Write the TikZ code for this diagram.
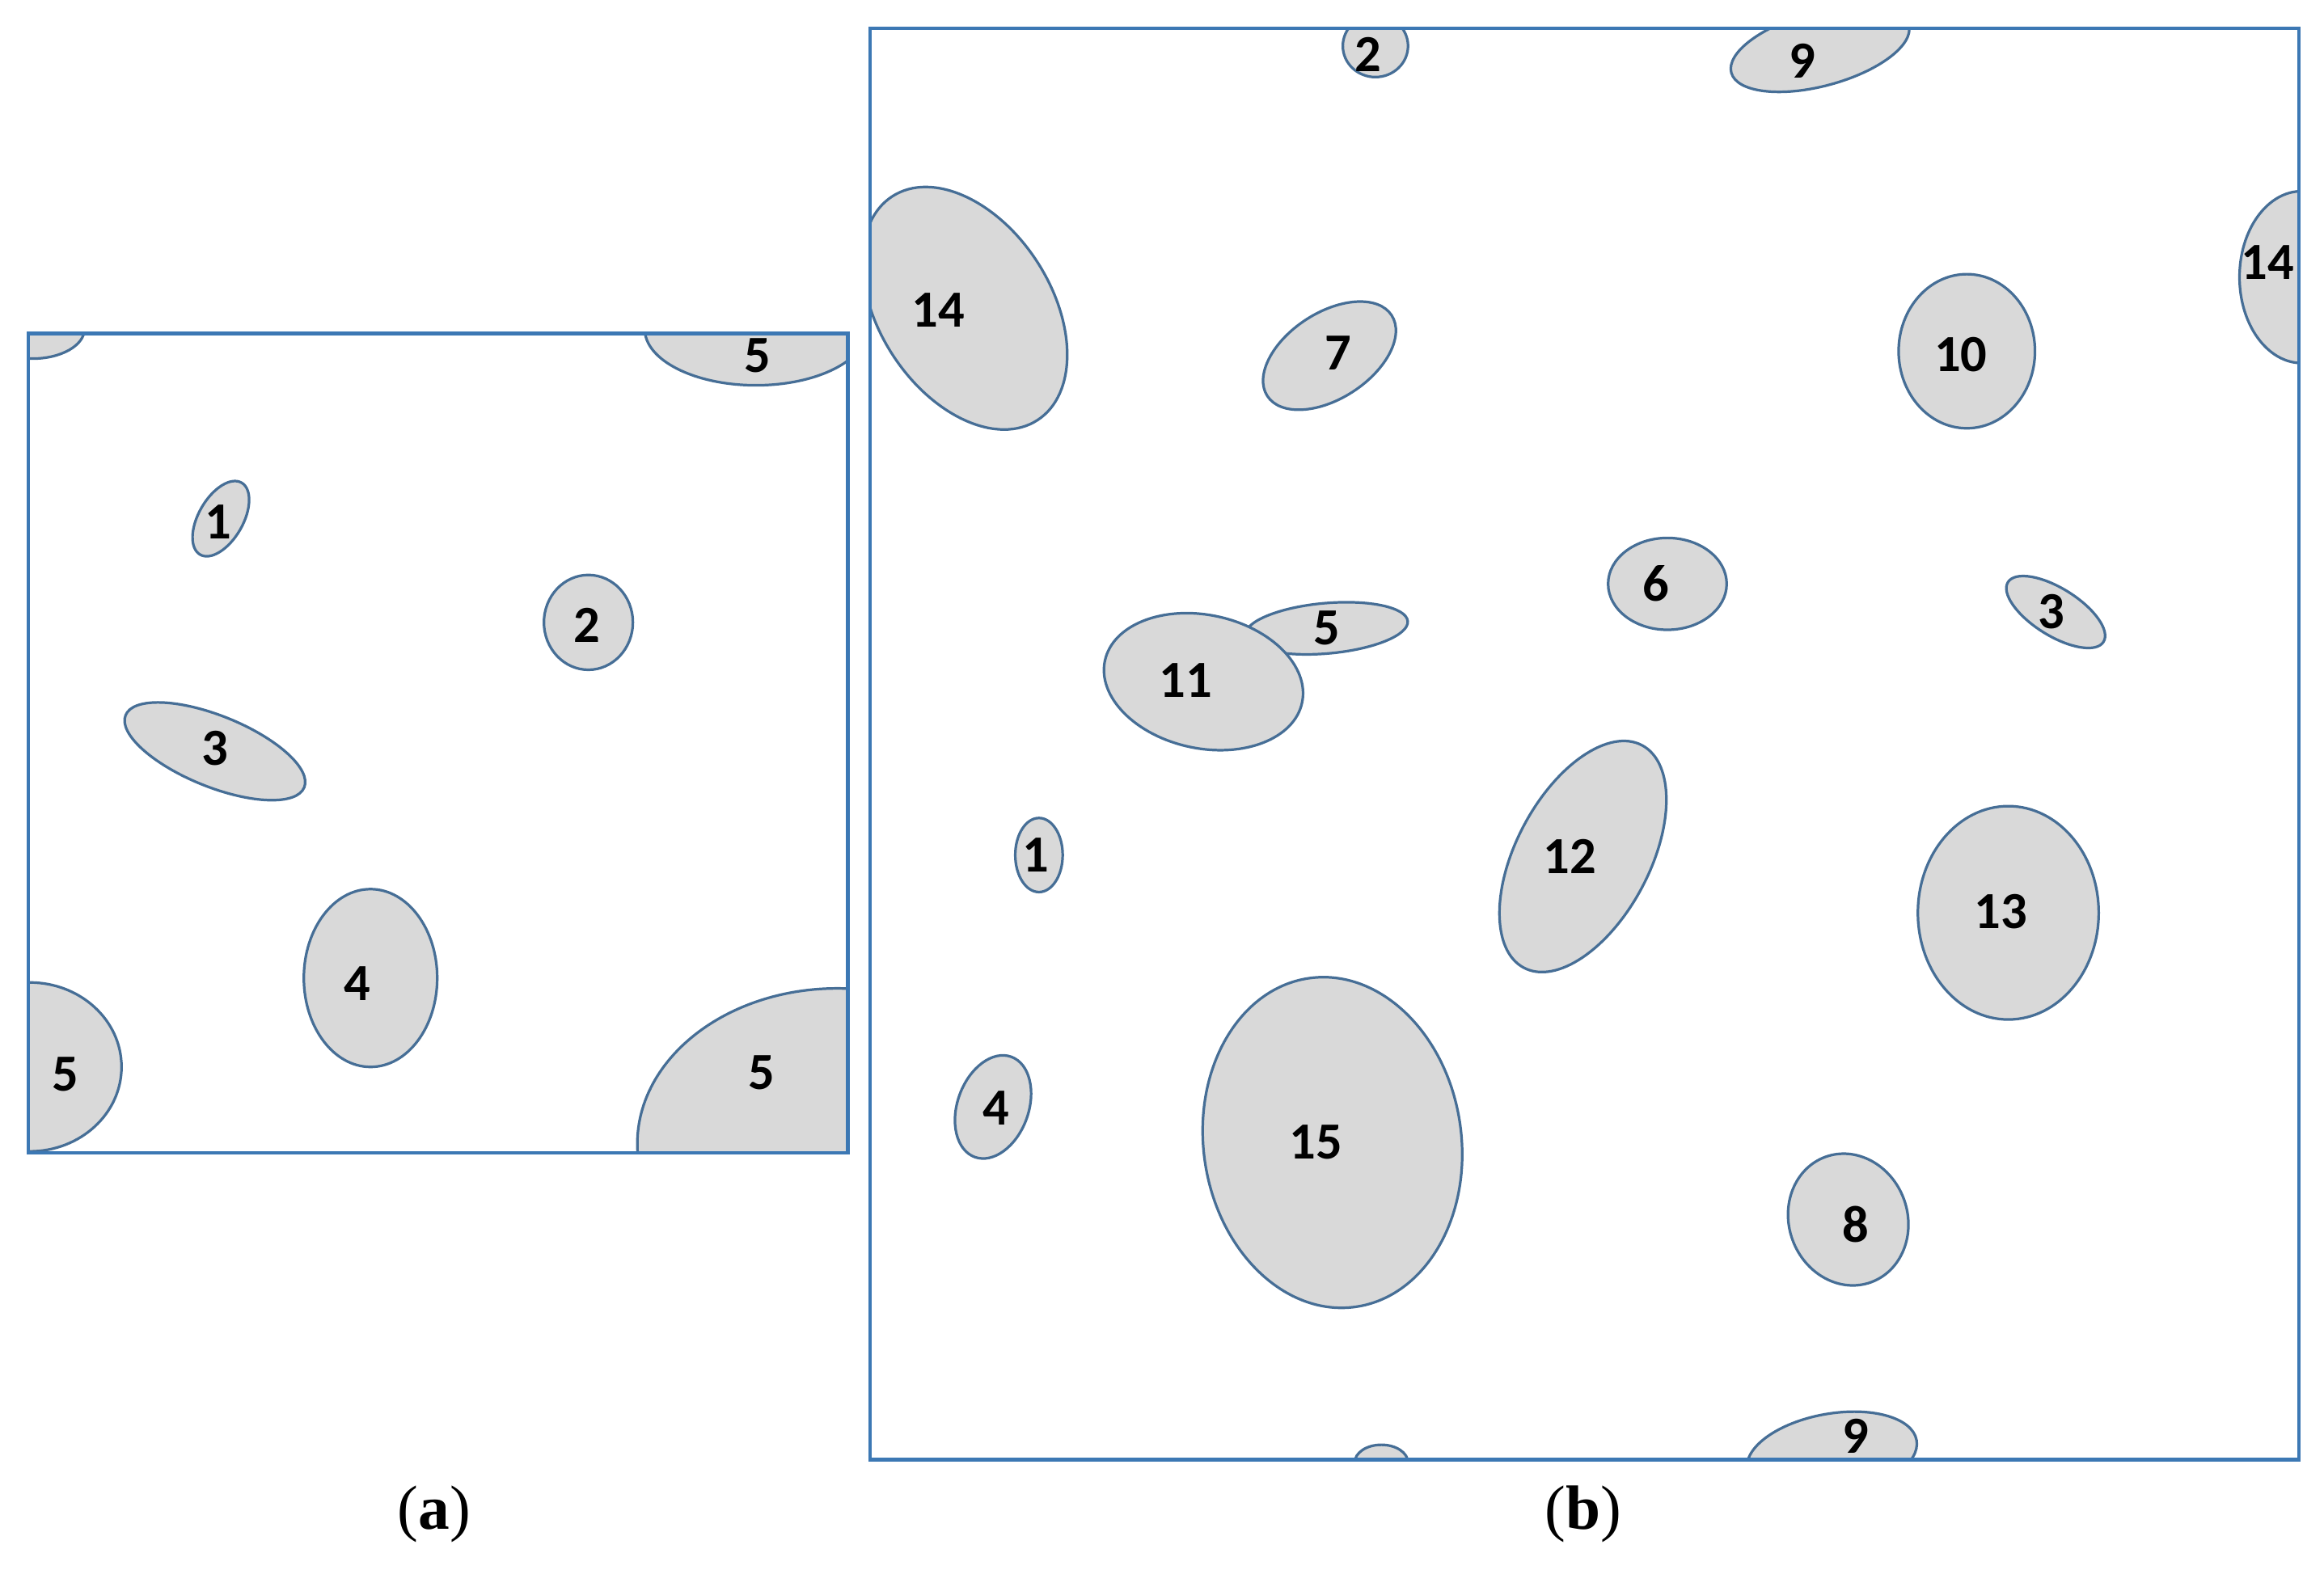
\documentclass[tikz,border=0pt]{standalone}
\usepackage{fontspec}
\setmainfont{Liberation Serif}
\newfontfamily\lblfont{Carlito}
\begin{document}
\begin{tikzpicture}[x=0.01cm,y=-0.01cm,
  blob/.style={draw=blobline,fill=blobfill,line width=0.5pt},
  frame/.style={draw=frameline,line width=0.7pt},
  lbl/.style={font=\lblfont\bfseries\fontsize{10}{12}\selectfont,inner sep=0pt}]
\definecolor{blobline}{RGB}{70,110,150}
\definecolor{blobfill}{RGB}{217,217,217}
\definecolor{frameline}{RGB}{60,120,180}
\useasboundingbox (0,0) rectangle (1568,1059);
\newcommand{\blob}[6]{\draw[blob,rotate around={#5:(#1,#2)}] (#1,#2) ellipse [x radius=#3*0.01cm, y radius=#4*0.01cm];}
% panel a
\begin{scope}
\clip (19,225) rectangle (572,778);
\blob{22}{222}{35}{20}{0}{}
\blob{510}{222}{75}{38}{0}{}
\blob{149}{350}{28}{15}{60}{}
\blob{397}{420}{30}{32}{0}{}
\blob{145}{507}{65}{24}{-22}{}
\blob{250}{660}{45}{60}{0}{}
\blob{20}{720}{62}{57}{0}{}
\blob{565}{772}{135}{105}{0}{}
\end{scope}
\draw[frame] (19,225) rectangle (572,778);
\node[lbl] (a5t) at (511,240) {5};
\node[lbl] (a1) at (147,352) {1};
\node[lbl] (a2) at (396,422) {2};
\node[lbl] (a3) at (145,505) {3};
\node[lbl] (a4) at (241,664) {4};
\node[lbl] (a5l) at (44,725) {5};
\node[lbl] (a5r) at (514,724) {5};
% panel b
\begin{scope}
\clip (587,19) rectangle (1551,985);
\blob{928}{31}{22}{21}{0}{}
\blob{1228}{33}{62}{25}{15}{}
\blob{1236}{982}{58}{28}{10}{}
\blob{932}{987}{18}{12}{0}{}
\blob{651}{208}{90}{58}{-57}{}
\blob{1553}{187}{42}{58}{0}{}
\blob{897}{240}{50}{29}{33}{}
\blob{1327}{237}{46}{52}{0}{}
\blob{1125}{394}{40}{31}{0}{}
\blob{1387}{413}{38}{16}{-32}{}
\blob{895}{424}{55}{17}{5}{}
\blob{812}{460}{68}{45}{-12}{}
\blob{701}{577}{16}{25}{0}{}
\blob{1068}{578}{85}{45}{62}{}
\blob{1355}{616}{61}{72}{0}{}
\blob{670}{747}{36}{24}{70}{}
\blob{899}{771}{87}{112}{8}{}
\blob{1247}{823}{40}{45}{20}{}
\end{scope}
\draw[frame] (587,19) rectangle (1551,985);
\node[lbl] (b2) at (923,37) {2};
\node[lbl] (b9t) at (1216,41) {9};
\node[lbl] (b9b) at (1252,969) {9};
\node[lbl] (b14l) at (633,209) {14};
\node[lbl] (b14r) at (1530,177) {14};
\node[lbl] (b7) at (903,238) {7};
\node[lbl] (b10) at (1323,239) {10};
\node[lbl] (b6) at (1117,394) {6};
\node[lbl] (b3) at (1384,413) {3};
\node[lbl] (b5) at (895,424) {5};
\node[lbl] (b11) at (800,459) {11};
\node[lbl] (b1) at (699,577) {1};
\node[lbl] (b12) at (1059,578) {12};
\node[lbl] (b13) at (1350,615) {13};
\node[lbl] (b4) at (672,748) {4};
\node[lbl] (b15) at (888,771) {15};
\node[lbl] (b8) at (1252,826) {8};
\node[font=\fontsize{12}{14}\selectfont] (capa) at (293,1022) {(\textbf{a})};
\node[font=\fontsize{12}{14}\selectfont] (capb) at (1068,1022) {(\textbf{b})};
\end{tikzpicture}
\end{document}
